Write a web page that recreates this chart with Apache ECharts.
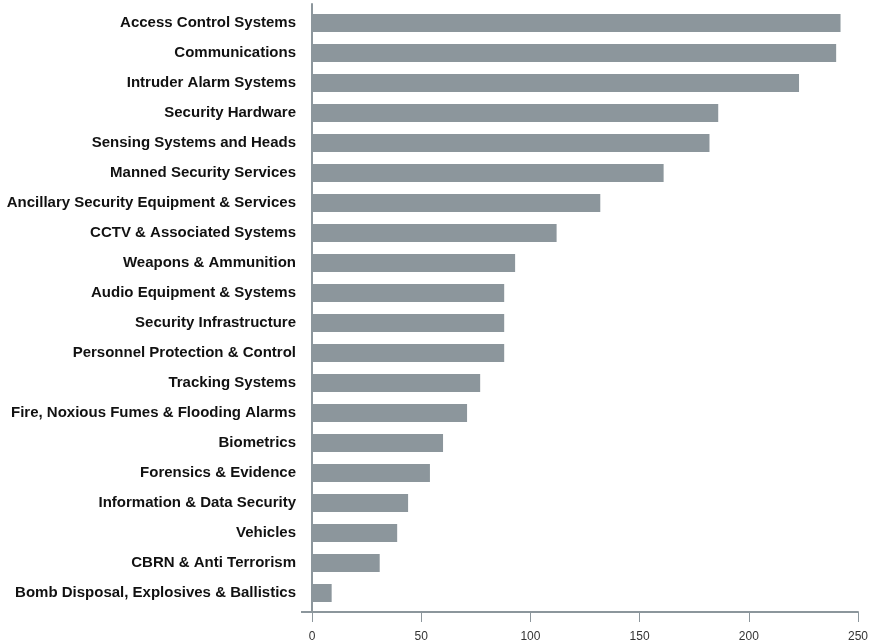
<!DOCTYPE html>
<html>
<head>
<meta charset="utf-8">
<script src="https://cdn.jsdelivr.net/npm/echarts@6/dist/echarts.min.js"></script>
<style>
html,body{margin:0;padding:0;background:#fff;}
#chart{width:877px;height:643px;}
</style>
</head>
<body>
<div id="chart"></div>
<script>
const categories = [
  "Access Control Systems",
  "Communications",
  "Intruder Alarm Systems",
  "Security Hardware",
  "Sensing Systems and Heads",
  "Manned Security Services",
  "Ancillary Security Equipment & Services",
  "CCTV & Associated Systems",
  "Weapons & Ammunition",
  "Audio Equipment & Systems",
  "Security Infrastructure",
  "Personnel Protection & Control",
  "Tracking Systems",
  "Fire, Noxious Fumes & Flooding Alarms",
  "Biometrics",
  "Forensics & Evidence",
  "Information & Data Security",
  "Vehicles",
  "CBRN & Anti Terrorism",
  "Bomb Disposal, Explosives & Ballistics"
];
const values = [242, 240, 223, 186, 182, 161, 132, 112, 93, 88, 88, 88, 77, 71, 60, 54, 44, 39, 31, 9];
const xTicks = { min: 0, max: 250, interval: 50 };

const axisColor = '#8c969c';
const chart = echarts.init(document.getElementById('chart'));
chart.setOption({
  animation: false,
  backgroundColor: '#ffffff',
  grid: [
    { left: 312, right: 19, top: 8, bottom: 35 },
    { left: 312, right: 19, top: 4, bottom: 30 }
  ],
  xAxis: [
    { gridIndex: 0, type: 'value', min: xTicks.min, max: xTicks.max, interval: xTicks.interval, show: false },
    {
      gridIndex: 1, type: 'value', min: xTicks.min, max: xTicks.max, interval: xTicks.interval,
      axisLine: { show: true, lineStyle: { color: axisColor, width: 2 } },
      axisTick: { show: true, length: 10, lineStyle: { color: axisColor, width: 1 } },
      axisLabel: { color: '#333', fontSize: 12, fontFamily: 'Liberation Sans, Arial, sans-serif', margin: 19 },
      splitLine: { show: false }
    }
  ],
  yAxis: [
    {
      gridIndex: 0, type: 'category', data: categories, inverse: true,
      axisLine: { show: false }, axisTick: { show: false },
      axisLabel: { color: '#111', fontSize: 15, fontWeight: 'bold', fontFamily: 'Liberation Sans, Arial, sans-serif', margin: 16 }
    },
    {
      gridIndex: 1, type: 'value', min: 0, max: 1,
      axisLine: { show: true, lineStyle: { color: axisColor, width: 2 } },
      axisTick: { show: true, length: 11, customValues: [0], lineStyle: { color: axisColor, width: 2 } },
      axisLabel: { show: false },
      splitLine: { show: false }
    }
  ],
  series: [{
    type: 'bar',
    xAxisIndex: 0, yAxisIndex: 0,
    data: values,
    barWidth: 18,
    itemStyle: { color: '#8c969c' }
  }]
});
</script>
</body>
</html>
